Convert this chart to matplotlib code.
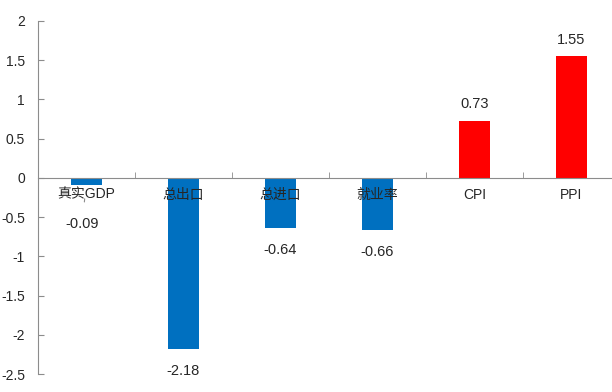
import numpy as np
import matplotlib.pyplot as plt

plt.rcParams['font.family'] = ['Liberation Sans', 'Noto Sans CJK SC', 'DejaVu Sans']

categories = ['真实GDP', '总出口', '总进口', '就业率', 'CPI', 'PPI']
values = [-0.09, -2.18, -0.64, -0.66, 0.73, 1.55]
yticks = [-2.5, -2, -1.5, -1, -0.5, 0, 0.5, 1, 1.5, 2]
ytick_labels = ['-2.5', '-2', '-1.5', '-1', '-0.5', '0', '0.5', '1', '1.5', '2']

blue = '#0070C0'
red = '#FF0000'
grey = '#8C8C8C'
text_color = '#262626'

fig = plt.figure(figsize=(6.12, 3.92), dpi=100, facecolor='white')
ax = fig.add_axes([37.5 / 612, 18 / 392, 582.6 / 612, 353 / 392])
ax.set_axisbelow(False)

x = np.arange(len(categories))
colors = [blue if v < 0 else red for v in values]
ax.bar(x, values, width=0.32, color=colors, zorder=1)

ax.set_xlim(-0.5, len(categories) - 0.5)
ax.set_ylim(-2.5, 2)

# 坐标轴样式
for s in ['top', 'right']:
    ax.spines[s].set_visible(False)
ax.spines['left'].set_color(grey)
ax.spines['bottom'].set_color(grey)
ax.spines['bottom'].set_position(('data', 0))

ax.set_yticks(yticks)
ax.set_yticklabels(ytick_labels)
ax.tick_params(axis='y', direction='in', length=4, color=grey, pad=9,
               labelsize=10, labelcolor=text_color)

ax.set_xticks(x)
ax.set_xticklabels(categories)
ax.set_xticks(np.arange(len(categories)) + 0.5, minor=True)
ax.tick_params(axis='x', which='major', length=0, pad=7,
               labelsize=10, labelcolor=text_color)
ax.tick_params(axis='x', which='minor', direction='in', length=4, color=grey)

# 数据标签
for i, v in enumerate(values):
    if i == 0:
        ax.annotate(f'{v:.2f}', xy=(i, v), xytext=(i - 0.04, -0.59),
                    ha='center', va='center', fontsize=10.5, color=text_color,
                    arrowprops=dict(arrowstyle='-', color=grey, lw=0.8,
                                    shrinkA=9, shrinkB=10))
    elif v < 0:
        ax.annotate(f'{v:.2f}', xy=(i, v), xytext=(0, -11),
                    textcoords='offset points', ha='center', va='top',
                    fontsize=10.5, color=text_color)
    else:
        ax.annotate(f'{v:.2f}', xy=(i, v), xytext=(0, 7),
                    textcoords='offset points', ha='center', va='bottom',
                    fontsize=10.5, color=text_color)

fig.savefig('out.png', dpi=100, facecolor='white')
